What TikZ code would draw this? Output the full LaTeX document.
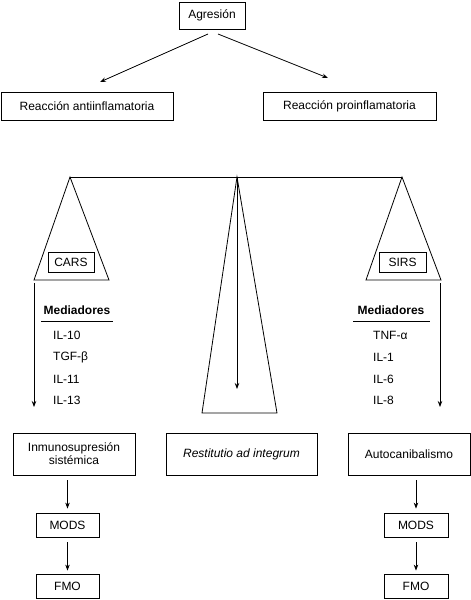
\documentclass[tikz,border=0pt]{standalone}
\usepackage{fontspec}
\setmainfont{Liberation Sans}
\usetikzlibrary{arrows.meta}
\begin{document}
\begin{tikzpicture}[x=1pt,y=-1pt,
  box/.style={draw,line width=0.8pt,inner sep=0pt,font=\fontsize{12}{13}\selectfont,align=center},
  conn/.style={line width=0.8pt,-{Stealth[length=6pt,width=4.5pt]}},
  ln/.style={line width=0.8pt},
  lbl/.style={inner sep=0pt,font=\fontsize{12}{13}\selectfont},
  lblb/.style={inner sep=0pt,font=\fontsize{12}{13}\selectfont\bfseries}]
\useasboundingbox (0,0) rectangle (471,600);
% top
\node[box,minimum width=66pt,minimum height=27pt] (agr) at (212,15.5) {Agresión};
\node[box,minimum width=172pt,minimum height=28pt] (anti) at (87,106) {Reacción antiinflamatoria};
\node[box,minimum width=173pt,minimum height=28pt] (pro) at (349.5,106) {Reacción proinflamatoria};
\coordinate (a1) at (208,34);
\coordinate (a1e) at (100,82);
\coordinate (a2) at (218,34);
\coordinate (a2e) at (328,78);
\draw[conn] (a1) -- (a1e);
\draw[conn] (a2) -- (a2e);
% balance
\coordinate (bl) at (70,177);
\coordinate (br) at (402,177);
\coordinate (bc) at (237,177);
\draw[ln] (bl) -- (br);
\draw[ln] (bl) -- (34,280) -- (109,280) -- cycle;
\draw[ln] (br) -- (366,280) -- (441,280) -- cycle;
\draw[ln] (bc) -- (202,413) -- (277,413) -- cycle;
\coordinate (bce) at (237,389);
\draw[conn] (bc) -- (bce);
\node[box,minimum width=46pt,minimum height=20pt] (cars) at (71,262) {CARS};
\node[box,minimum width=47pt,minimum height=20pt] (sirs) at (402.5,262) {SIRS};
% side arrows
\coordinate (l1) at (34,283);
\coordinate (l2) at (34,407);
\coordinate (r1) at (440,283);
\coordinate (r2) at (440,407);
\draw[conn] (l1) -- (l2);
\draw[conn] (r1) -- (r2);
% mediators left
\node[lblb] (medl) at (77,310) {Mediadores};
\coordinate (ul1) at (41,321);
\coordinate (ul2) at (113,321);
\draw[ln] (ul1) -- (ul2);
\node[lbl,anchor=west] (ml1) at (53,335) {IL-10};
\node[lbl,anchor=west] (ml2) at (53,357) {TGF-β};
\node[lbl,anchor=west] (ml3) at (53,379) {IL-11};
\node[lbl,anchor=west] (ml4) at (53,400) {IL-13};
% mediators right
\node[lblb] (medr) at (391,310) {Mediadores};
\coordinate (ur1) at (353,321);
\coordinate (ur2) at (430,321);
\draw[ln] (ur1) -- (ur2);
\node[lbl,anchor=west] (mr1) at (373,335) {TNF-α};
\node[lbl,anchor=west] (mr2) at (373,357) {IL-1};
\node[lbl,anchor=west] (mr3) at (373,379) {IL-6};
\node[lbl,anchor=west] (mr4) at (373,400) {IL-8};
% bottom boxes
\node[box,minimum width=122pt,minimum height=42pt] (inm) at (74,454) {Inmunosupresión\\sistémica};
\node[box,minimum width=151pt,minimum height=42pt] (rest) at (241.5,454) {\itshape Restitutio ad integrum};
\node[box,minimum width=122pt,minimum height=42pt] (auto) at (409,454) {Autocanibalismo};
\node[box,minimum width=63pt,minimum height=24pt] (modsl) at (67.5,525) {MODS};
\node[box,minimum width=63pt,minimum height=24pt] (fmol) at (67.5,586) {FMO};
\node[box,minimum width=64pt,minimum height=24pt] (modsr) at (416,525) {MODS};
\node[box,minimum width=64pt,minimum height=24pt] (fmor) at (416,586) {FMO};
\draw[conn,shorten <=5pt,shorten >=4pt] (inm.south -| modsl.north) -- (modsl.north);
\draw[conn,shorten <=5pt,shorten >=3pt] (modsl) -- (fmol);
\draw[conn,shorten <=5pt,shorten >=4pt] (auto.south -| modsr.north) -- (modsr.north);
\draw[conn,shorten <=5pt,shorten >=3pt] (modsr) -- (fmor);
\end{tikzpicture}
\end{document}
